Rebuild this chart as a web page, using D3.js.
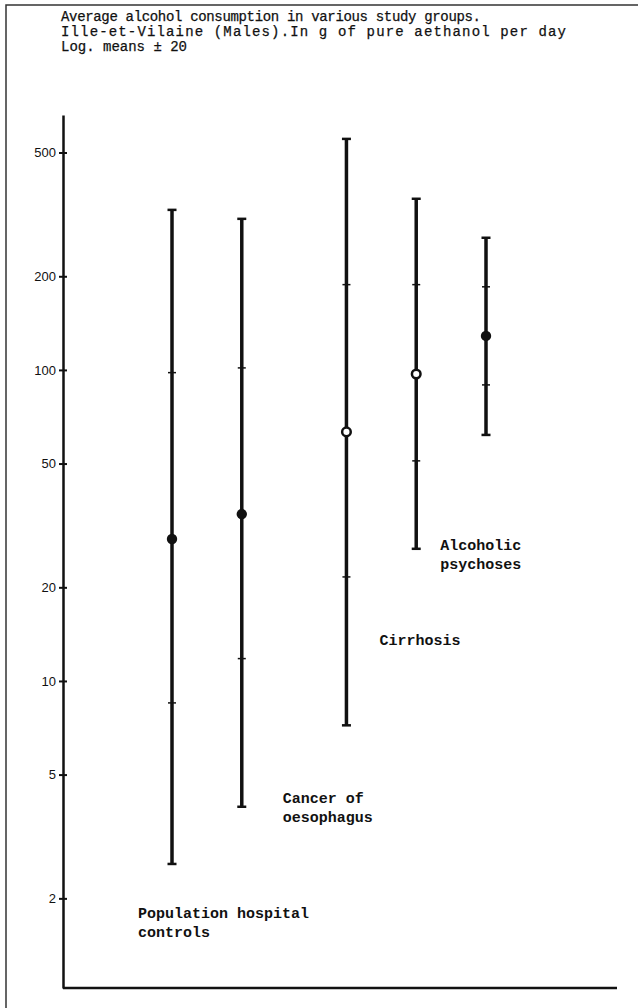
<!DOCTYPE html>
<html>
<head>
<meta charset="utf-8">
<script src="https://cdn.jsdelivr.net/npm/d3@7"></script>
<style>
  body { margin: 0; background: #fff; }
</style>
</head>
<body>
<div id="chart"></div>
<script>
// groups, left to right (the last bar carries no label in the original)
const groups = ["Population hospital controls", "Cancer of oesophagus", "Cirrhosis", "Alcoholic psychoses", "Alcoholic psychoses (2)"];
// log means and the +/- 1 and 2 sigma limits, g of ethanol per day
const means = [28.6, 34.4, 63.2, 97, 128.6];
const lo1 = [8.5, 11.8, 21.6, 51, 89.5];
const hi1 = [98, 101.5, 188, 188, 185];
const lo2 = [2.58, 3.94, 7.2, 26.6, 61.8];
const hi2 = [327, 306, 553, 355, 266];
const filled = [true, true, false, false, true];
const yTicks = [2, 5, 10, 20, 50, 100, 200, 500];
const titleLines = [
    "Average alcohol consumption in various study groups.",
    "Ille-et-Vilaine (Males).In g of pure aethanol per day",
    "Log. means \u00b1 20"
];
const labelLines = [
    ["Population hospital", "controls"],
    ["Cancer of", "oesophagus"],
    ["Cirrhosis"],
    ["Alcoholic", "psychoses"],
    []
];

const W = 638, H = 1008;
const axisX = 63;

const svg = d3.select("#chart")
    .append("svg")
    .attr("width", W)
    .attr("height", H);

svg.append("rect").attr("width", W).attr("height", H).attr("fill", "#fff");

// scanned page frame (top and left edge)
svg.append("path")
    .attr("d", `M6,${H} L6,5 L${W},5`)
    .attr("fill", "none")
    .attr("stroke", "#333")
    .attr("stroke-width", 1.5);

// title - typewriter spacing differs from line to line on the page
const titleWidths = [420, 505, null];
const title = svg.append("g")
    .selectAll("text")
    .data(titleLines)
    .join("text")
    .attr("x", 61)
    .attr("y", (d, i) => 21 + i * 15)
    .style("font-family", "'Liberation Mono', monospace")
    .style("font-size", "14px")
    .attr("fill", "#111")
    .attr("stroke", "#111")
    .attr("stroke-width", 0.25)
    .text(d => d);
title.filter((d, i) => titleWidths[i])
    .attr("textLength", (d, i) => titleWidths[i])
    .attr("lengthAdjust", "spacing");

const y = d3.scaleLog()
    .domain([1.03, 660])
    .range([988, 115]);

// slot positions: a wider gap before the cirrhosis group
const slot = groups.map((d, i) => i + (i >= 2 ? 0.5 : 0));
const x = d3.scaleLinear()
    .domain([0, 4.5])
    .range([172, 486]);

// Y axis, ticks on both sides
const yAxisL = svg.append("g")
    .attr("transform", `translate(${axisX},0)`)
    .call(d3.axisLeft(y).tickValues(yTicks).tickFormat(d3.format("d")).tickSize(4).tickSizeOuter(0).tickPadding(3));
svg.append("g")
    .attr("transform", `translate(${axisX},0)`)
    .call(d3.axisRight(y).tickValues(yTicks).tickFormat("").tickSize(4).tickSizeOuter(0))
    .select(".domain").remove();

yAxisL.select(".domain").attr("stroke", "#111").attr("stroke-width", 2.5);
svg.selectAll(".tick line").attr("stroke", "#111").attr("stroke-width", 2);
yAxisL.selectAll(".tick text")
    .style("font-family", "'Liberation Sans', Arial, sans-serif")
    .style("font-size", "13px")
    .attr("fill", "#111");

// X axis baseline
svg.append("line")
    .attr("x1", axisX).attr("x2", 617)
    .attr("y1", y(1.03)).attr("y2", y(1.03))
    .attr("stroke", "#111")
    .attr("stroke-width", 2.5);

const bars = svg.append("g")
    .selectAll("g")
    .data(groups)
    .join("g")
    .attr("transform", (d, i) => `translate(${x(slot[i])},0)`);

// whiskers (mean +/- 2 sigma)
bars.append("line")
    .attr("y1", (d, i) => y(hi2[i]))
    .attr("y2", (d, i) => y(lo2[i]))
    .attr("stroke", "#111")
    .attr("stroke-width", 3.5);

// end caps
bars.selectAll(".cap")
    .data((d, i) => [hi2[i], lo2[i]])
    .join("line")
    .attr("class", "cap")
    .attr("x1", -4.5).attr("x2", 4.5)
    .attr("y1", v => y(v)).attr("y2", v => y(v))
    .attr("stroke", "#111")
    .attr("stroke-width", 2.5);

// 1 sigma marks
bars.selectAll(".sig")
    .data((d, i) => [hi1[i], lo1[i]])
    .join("line")
    .attr("class", "sig")
    .attr("x1", -4).attr("x2", 4)
    .attr("y1", v => y(v)).attr("y2", v => y(v))
    .attr("stroke", "#111")
    .attr("stroke-width", 1.5);

// means
bars.append("circle")
    .attr("cy", (d, i) => y(means[i]))
    .attr("r", (d, i) => filled[i] ? 5.2 : 4.3)
    .attr("fill", (d, i) => filled[i] ? "#111" : "#fff")
    .attr("stroke", "#111")
    .attr("stroke-width", (d, i) => filled[i] ? 0 : 2.5);

// group labels
const labelPos = [[-34, 918], [41, 803], [33, 645], [24, 550], [0, 0]];
bars.each(function (d, i) {
    d3.select(this).append("text")
        .attr("x", labelPos[i][0])
        .attr("y", labelPos[i][1])
        .style("font-family", "'Liberation Mono', monospace")
        .style("font-size", "15px")
        .style("font-weight", "bold")
        .attr("fill", "#111")
        .selectAll("tspan")
        .data(labelLines[i])
        .join("tspan")
        .attr("x", labelPos[i][0])
        .attr("dy", (t, j) => j ? 19 : 0)
        .text(t => t);
});
</script>
</body>
</html>
